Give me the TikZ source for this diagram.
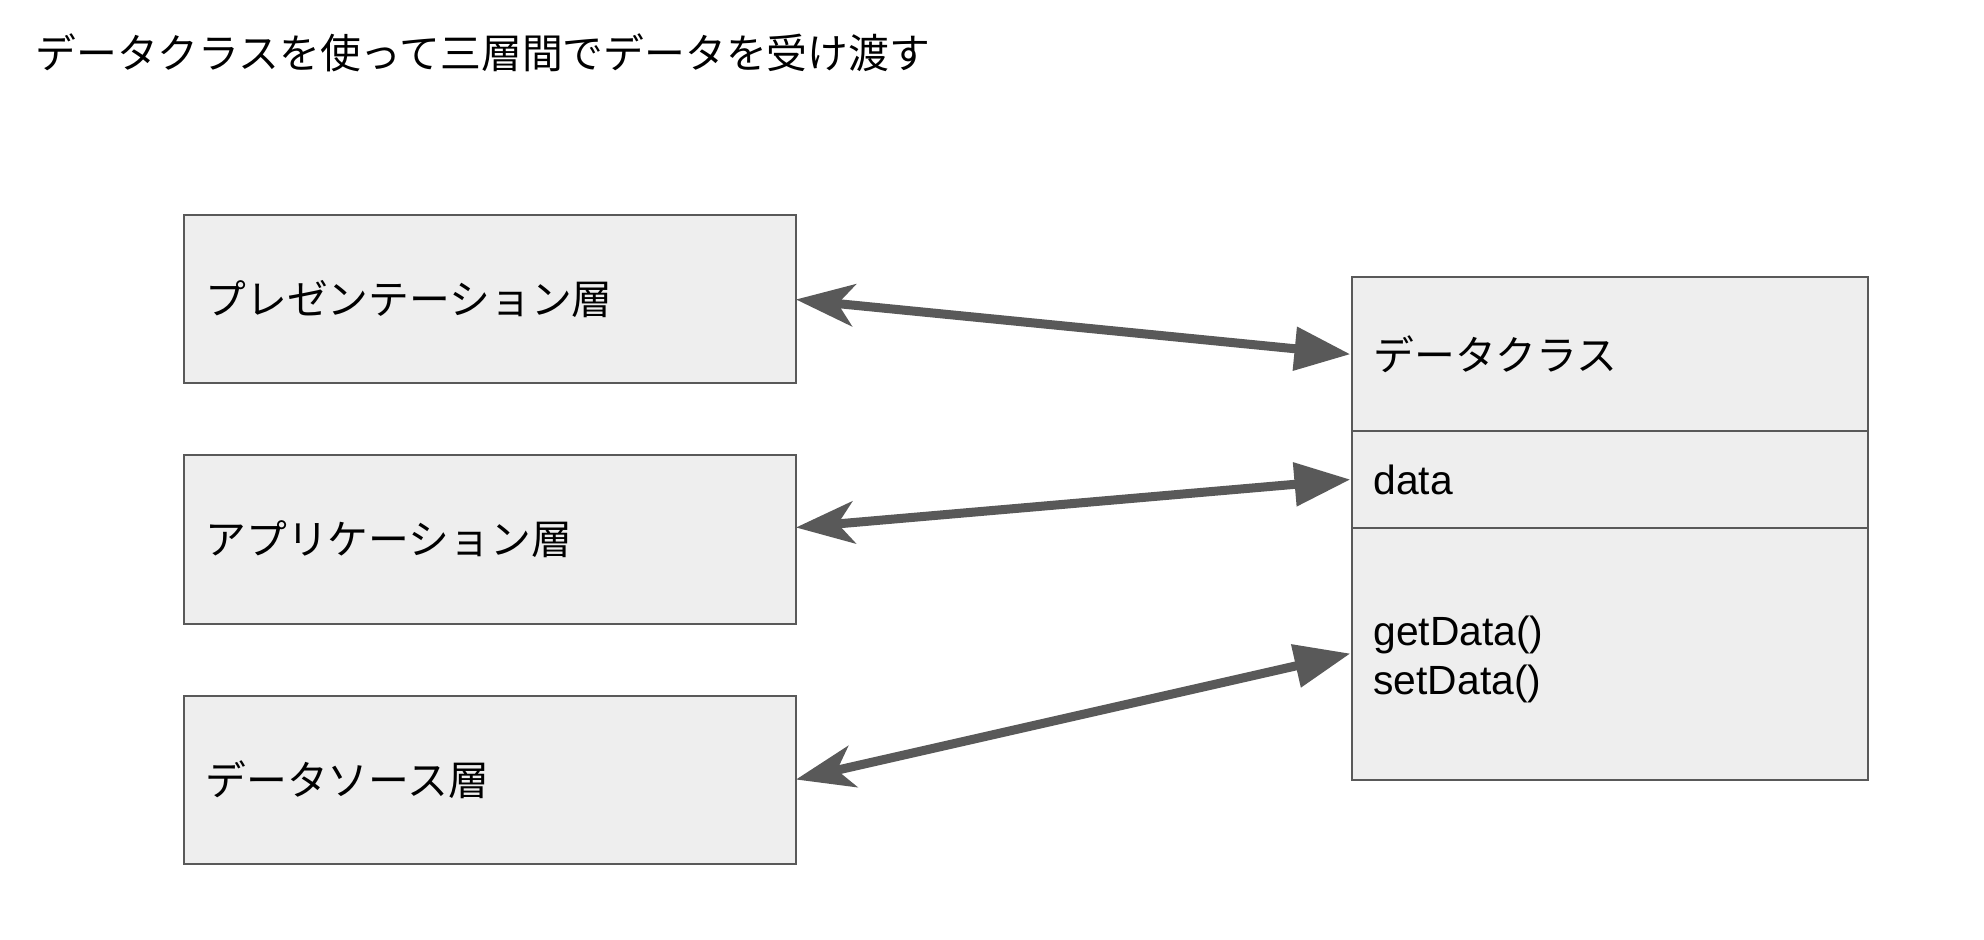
\documentclass[tikz,border=0pt]{standalone}
\usepackage{fontspec}
\setmainfont{Liberation Sans}
\newfontfamily\cjk{Noto Sans CJK JP}
\usetikzlibrary{arrows.meta}
\definecolor{linegray}{HTML}{595959}
\definecolor{boxfill}{HTML}{EEEEEE}
\tikzset{
  base/.style={font=\fontsize{20.4pt}{24.6pt}\selectfont},
  layerbox/.style={base, draw=linegray, fill=boxfill, line width=1pt, rectangle,
    inner xsep=11pt, inner ysep=0pt, align=left, text width=284.25pt, minimum height=84pt},
  classbox/.style={base, draw=linegray, fill=boxfill, line width=1pt, rectangle,
    inner xsep=11pt, inner ysep=0pt, align=left, text width=236pt},
  conn/.style={draw=linegray, line width=4.5pt,
    {Stealth[length=29pt, width=21pt, inset=8pt]}-{Triangle[length=28pt, width=21pt]}},
}
\begin{document}
\begin{tikzpicture}[x=0.5pt, y=-0.5pt]
\fill[white] (0,0) rectangle (1984,940);
\useasboundingbox (0,0) rectangle (1984,940);

\node[base, anchor=west, inner sep=0pt] (title) at (35,53) {\cjk データクラスを使って三層間でデータを受け渡す};

\node[layerbox] (b1) at (489.75,299.5) {\cjk プレゼンテーション層};
\node[layerbox] (b2) at (489.75,539.5) {\cjk アプリケーション層};
\node[layerbox] (b3) at (489.75,779.5) {\cjk データソース層};

\node[classbox, minimum height=77.25pt] (ctop) at (1609.5,354.25) {\cjk データクラス};
\node[classbox, minimum height=48pt] (cdata) at (1609.5,479.5) {data};
\node[classbox, minimum height=126pt] (cmeth) at (1609.5,653.5) {\rule{0pt}{20.8pt}getData()\\setData()};

\draw[conn] ([xshift=-0.5pt]b1.east) -- (ctop.west);
\draw[conn] ([xshift=-0.5pt, yshift=6pt]b2.east) -- (cdata.west);
\draw[conn] ([xshift=-0.5pt]b3.east) -- (cmeth.west);
\end{tikzpicture}
\end{document}
